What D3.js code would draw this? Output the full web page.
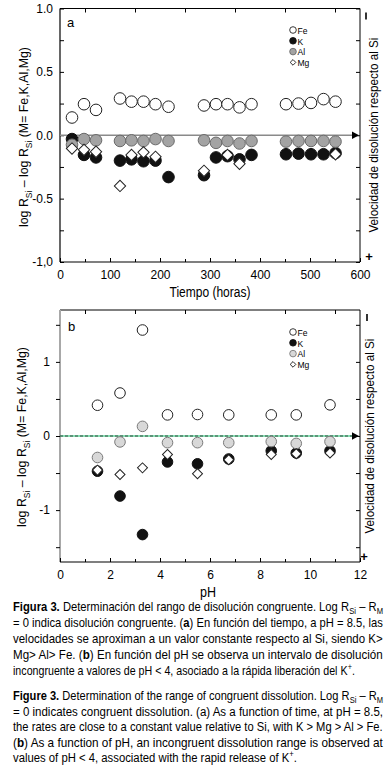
<!DOCTYPE html>
<html><head><meta charset="utf-8">
<script src="https://cdn.jsdelivr.net/npm/d3@7"></script>
<style>body{margin:0;background:#fff}svg{display:block}text{white-space:pre}</style>
</head><body>
<script>
// ---- Panel a data (time, hours) ----
const timeA = [24,48,72,120,143,167,191,217,288,312,335,359,383,452,477,502,527,551];
const feA = [0.14,0.245,0.20,0.29,0.265,0.265,0.245,0.225,0.235,0.245,0.245,0.22,0.245,0.245,0.25,0.255,0.285,0.265];
const kA  = [-0.03,-0.155,-0.175,-0.20,-0.19,-0.205,-0.20,-0.33,-0.315,-0.175,-0.165,-0.19,-0.155,-0.15,-0.145,-0.15,-0.15,-0.14];
const alA = [-0.075,-0.03,-0.04,-0.045,-0.04,-0.045,-0.03,-0.045,-0.04,-0.06,-0.045,-0.065,-0.045,-0.05,-0.045,-0.045,-0.045,-0.05];
const mgTimeA = [24,48,72,120,143,167,191,288,335,359,551];
const mgA = [-0.105,-0.115,-0.13,-0.40,-0.155,-0.135,-0.17,-0.28,-0.155,-0.225,-0.15];
const xTicksA = [0,100,200,300,400,500,600];
const yTicksA = [-1,-0.5,0,0.5,1];
const yTickLabelsA = ["-1,0","-0.5","0.0","0.5","1.0"];

// ---- Panel b data (pH) ----
const phB = [1.5,2.4,3.3,4.3,5.5,6.75,8.45,9.45,10.8];
const feB = [0.415,0.58,1.43,0.285,0.29,0.285,0.285,0.285,0.42];
const alB = [-0.29,-0.08,0.13,-0.09,-0.09,-0.09,-0.075,-0.10,-0.075];
const kB  = [-0.475,-0.81,-1.33,-0.35,-0.375,-0.31,-0.20,-0.23,-0.20];
const mgB = [-0.46,-0.52,-0.43,-0.25,-0.51,-0.32,-0.25,-0.24,-0.23];
const xTicksB = [0,2,4,6,8,10,12];
const yTicksB = [-1,0,1];
const yTickLabelsB = ["-1","0","1"];

const legendItems = ["Fe","K","Al","Mg"];

const W = 391, H = 770;
const FONT = "'Liberation Sans', Arial, sans-serif";
const svg = d3.select("body").append("svg").attr("width", W).attr("height", H)
  .style("font-family", FONT);

function textRun(g, parts, size) {
  let cx = 0;
  parts.forEach(p => {
    const fs = (p.sub || p.sup) ? size * 0.68 : size;
    const dy = p.sub ? size * 0.28 : p.sup ? -size * 0.42 : 0;
    const t = g.append("text").attr("x", cx).attr("y", dy).attr("font-size", fs)
      .attr("font-family", FONT).attr("fill", "#000").text(p.t);
    if (p.b) t.attr("font-weight", "bold");
    cx += t.node().getComputedTextLength();
  });
  return cx;
}

function drawPanel(o) {
  const g = svg.append("g");
  const x = o.x, y = o.y;
  const [x0, x1] = x.range();
  const [yb, yt] = y.range();
  g.append("line").attr("x1", x0).attr("x2", x1).attr("y1", yt).attr("y2", yt).attr("stroke", "#000").attr("stroke-width", 1);
  g.append("line").attr("x1", x1).attr("x2", x1).attr("y1", yt).attr("y2", yb).attr("stroke", "#000").attr("stroke-width", 1);
  g.append("line").attr("x1", x0).attr("x2", x1).attr("y1", yb).attr("y2", yb).attr("stroke", "#000").attr("stroke-width", 1.2);
  g.append("line").attr("x1", x0).attr("x2", x0).attr("y1", yt).attr("y2", yb).attr("stroke", o.leftColor).attr("stroke-width", o.leftWidth);

  const styleAxis = sel => { sel.select(".domain").remove(); sel.selectAll("line").attr("stroke", "#000"); sel.selectAll("text").attr("font-family", FONT).attr("font-size", 12).attr("fill", "#000"); };
  g.append("g").attr("transform", `translate(0,${yb})`)
    .call(d3.axisBottom(x).tickValues(o.xTicks).tickSizeInner(-4).tickSizeOuter(0).tickPadding(8).tickFormat(d3.format("d")))
    .call(styleAxis);
  g.append("g").attr("transform", `translate(0,${yb})`)
    .call(d3.axisBottom(x).tickValues(o.xMinor).tickSize(-3).tickFormat(""))
    .call(styleAxis);
  g.append("g").attr("transform", `translate(0,${yt})`)
    .call(d3.axisTop(x).tickValues(o.xMinor).tickSize(-4).tickFormat(""))
    .call(styleAxis);
  g.append("g").attr("transform", `translate(${x0},0)`)
    .call(d3.axisLeft(y).tickValues(o.yTicks).tickSize(o.leftTickSize).tickPadding(o.leftPad).tickFormat((d,i) => o.yLabels[i]))
    .call(styleAxis);
  g.append("g").attr("transform", `translate(${x0},0)`)
    .call(d3.axisLeft(y).tickValues(o.yMinor).tickSize(o.leftTickSize).tickFormat(""))
    .call(styleAxis);
  g.append("g").attr("transform", `translate(${x1},0)`)
    .call(d3.axisRight(y).tickValues(o.yMinor.concat(o.yTicks)).tickSize(-4).tickFormat(""))
    .call(styleAxis);

  const y0 = y(0);
  if (o.zeroStyle === "gray") {
    g.append("line").attr("x1", x0).attr("x2", x1 - 6).attr("y1", y0).attr("y2", y0).attr("stroke", "#8a8a8a").attr("stroke-width", 1.5);
  } else {
    g.append("line").attr("x1", x0).attr("x2", x1 - 6).attr("y1", y0).attr("y2", y0).attr("stroke", "#5fd39a").attr("stroke-width", 1.6);
    g.append("line").attr("x1", x0).attr("x2", x1 - 6).attr("y1", y0).attr("y2", y0).attr("stroke", "#222").attr("stroke-width", 0.8).attr("stroke-dasharray", "3,2");
  }
  g.append("path").attr("d", `M${x1-8},${y0-3.8}L${x1-1},${y0}L${x1-8},${y0+3.8}Z`).attr("fill", "#000");

  const pts = g.append("g");
  const circ = (xs, ys, fill, stroke) => pts.append("g").selectAll("circle").data(xs.map((d,i)=>[d, ys[i]])).join("circle")
      .attr("cx", d => x(d[0])).attr("cy", d => y(d[1])).attr("r", o.r)
      .attr("fill", fill).attr("stroke", stroke).attr("stroke-width", 1);
  circ(o.tFe, o.fe, "#fff", "#222");
  circ(o.tK, o.k, "#111", "#111");
  circ(o.tAl, o.al, o.grayFill, o.grayStroke);
  const sq = d3.symbol().type(d3.symbolSquare).size(o.dSize);
  pts.append("g").selectAll("path").data(o.tMg.map((d,i)=>[d, o.mg[i]])).join("path")
    .attr("d", sq).attr("transform", d => `translate(${x(d[0])},${y(d[1])}) rotate(45)`)
    .attr("fill", "#fff").attr("stroke", "#222").attr("stroke-width", 1);

  // legend
  const lg = g.append("g").attr("transform", `translate(${o.legX},${o.legY})`);
  legendItems.forEach((name, i) => {
    const row = lg.append("g").attr("transform", `translate(0,${i * 10.8})`);
    if (i === 3) {
      row.append("path").attr("d", d3.symbol().type(d3.symbolSquare).size(16)).attr("transform", "rotate(45)")
        .attr("fill", "#fff").attr("stroke", "#222").attr("stroke-width", 0.9);
    } else {
      const f = i === 0 ? "#fff" : i === 1 ? "#111" : o.grayFill;
      const s = i === 0 ? "#222" : i === 1 ? "#111" : o.grayStroke;
      row.append("circle").attr("r", 3.3).attr("fill", f).attr("stroke", s).attr("stroke-width", 0.9);
    }
    const tg = row.append("g").attr("transform", "translate(4.5,3.8) scale(0.9,1)");
    textRun(tg, [{t: name}], 9.5);
  });

  g.append("text").attr("x", o.letX).attr("y", o.letY).attr("font-size", 13).attr("font-family", FONT).text(o.letter);

  {
    const outer = g.append("g");
    const inner = outer.append("g");
    const w = textRun(inner, [{t:"log R"},{t:"Si",sub:1},{t:" – log R"},{t:"Si",sub:1},{t:" (M= Fe,K,Al,Mg)"}], 13.5);
    const s = 180 / w;
    outer.attr("transform", `translate(${o.yTitleX},${o.yTitleY}) rotate(-90) scale(${s},1) translate(${-w/2},0)`);
  }
  {
    const outer = g.append("g");
    const inner = outer.append("g");
    const w = textRun(inner, [{t:"Velocidad de disolución respecto al Si"}], 13);
    const s = 195 / w;
    outer.attr("transform", `translate(${o.rX},${o.rY}) rotate(-90) scale(${s},1) translate(${-w/2},0)`);
  }
  g.append("line").attr("x1", o.minusX).attr("x2", o.minusX).attr("y1", yt + 4).attr("y2", yt + 11).attr("stroke", "#000").attr("stroke-width", 1.6);
  g.append("text").attr("x", o.plusX).attr("y", yb - 1).attr("text-anchor", "middle").attr("font-size", 13).attr("font-weight", "bold").attr("font-family", FONT).text("+");

  {
    const outer = g.append("g");
    const w = textRun(outer, [{t: o.xTitle}], 14.5);
    const s = o.xTitleLen / w;
    outer.attr("transform", `translate(${o.xTitleX},${o.xTitleY}) scale(${s},1) translate(${-w/2},0)`);
  }
}

drawPanel({
  x: d3.scaleLinear([0,600],[60,360]), y: d3.scaleLinear([-1,1],[262,8.5]),
  xTicks: xTicksA, xMinor: d3.range(50,600,100), yTicks: yTicksA, yLabels: yTickLabelsA, yMinor: [-0.75,-0.25,0.25,0.75],
  leftColor: "#000", leftWidth: 1.2, leftTickSize: -4, leftPad: 7,
  zeroStyle: "gray",
  tFe: timeA, fe: feA, tK: timeA, k: kA, tAl: timeA, al: alA, tMg: mgTimeA, mg: mgA,
  r: 5.8, dSize: 64, grayFill: "#a3a3a3", grayStroke: "#6a6a6a",
  legX: 293, legY: 30,
  letter: "a", letX: 67, letY: 27,
  yTitleX: 28, yTitleY: 137,
  rX: 378, rY: 135, minusX: 366, plusX: 369,
  xTitle: "Tiempo (horas)", xTitleX: 210, xTitleY: 297, xTitleLen: 81
});

drawPanel({
  x: d3.scaleLinear([0,12],[60,360]), y: d3.scaleLinear([-1.7,1.7],[562,310]),
  xTicks: xTicksB, xMinor: [1,3,5,7,9,11], yTicks: yTicksB, yLabels: yTickLabelsB, yMinor: [-1.5,-0.5,0.5,1.5],
  leftColor: "#a8a8a8", leftWidth: 2, leftTickSize: 4, leftPad: 6,
  zeroStyle: "green",
  tFe: phB, fe: feB, tK: phB, k: kB, tAl: phB, al: alB, tMg: phB, mg: mgB,
  r: 5.3, dSize: 50, grayFill: "#d8d8d8", grayStroke: "#7a7a7a",
  legX: 293, legY: 332,
  letter: "b", letX: 68, letY: 331,
  yTitleX: 26, yTitleY: 437,
  rX: 374, rY: 436, minusX: 367, plusX: 364,
  xTitle: "pH", xTitleX: 208, xTitleY: 597, xTitleLen: 16
});

// ---- Caption ----
const cap = svg.append("g");
function capLine(y, parts, len) {
  const g = cap.append("g");
  const w = textRun(g, parts, 12);
  g.attr("transform", `translate(13,${y}) scale(${len / w},1)`);
}
const L = 370;
capLine(611, [{t:"Figura 3.", b:1},{t:" Determinación del rango de disolución congruente. Log R"},{t:"Si",sub:1},{t:" – R"},{t:"M",sub:1}], L);
capLine(627, [{t:"= 0 indica disolución congruente. ("},{t:"a",b:1},{t:") En función del tiempo, a pH = 8.5, las"}], L);
capLine(643, [{t:"velocidades se aproximan a un valor constante respecto al Si, siendo K>"}], L);
capLine(659, [{t:"Mg> Al> Fe. ("},{t:"b",b:1},{t:") En función del pH se observa un intervalo de disolución"}], L);
capLine(675, [{t:"incongruente a valores de pH < 4, asociado a la rápida liberación del K"},{t:"+",sup:1},{t:"."}], 342);
capLine(700, [{t:"Figure 3.", b:1},{t:" Determination of the range of congruent dissolution. Log R"},{t:"Si",sub:1},{t:" – R"},{t:"M",sub:1}], L);
capLine(715.5, [{t:"= 0 indicates congruent dissolution. (a) As a function of time, at pH = 8.5,"}], L);
capLine(731, [{t:"the rates are close to a constant value relative to Si, with K > Mg > Al > Fe."}], L);
capLine(746.5, [{t:"("},{t:"b",b:1},{t:") As a function of pH, an incongruent dissolution range is observed at"}], L);
capLine(762, [{t:"values of pH < 4, associated with the rapid release of K"},{t:"+",sup:1},{t:"."}], 284);
</script>
</body></html>
